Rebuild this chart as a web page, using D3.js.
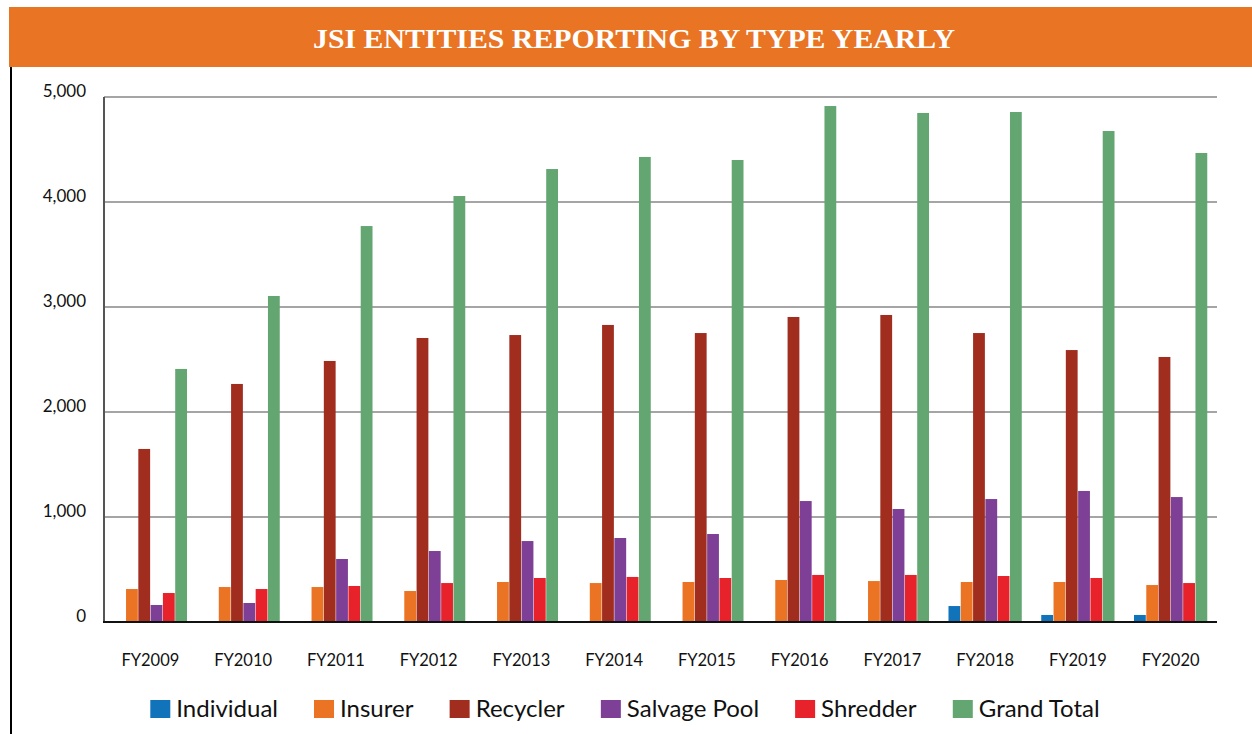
<!DOCTYPE html>
<html>
<head>
<meta charset="utf-8">
<script src="https://cdn.jsdelivr.net/npm/d3@7"></script>
<style>
  body { margin: 0; background: #fff; }
  svg { display: block; }
</style>
</head>
<body>
<script>
// data
var years = ["FY2009", "FY2010", "FY2011", "FY2012", "FY2013", "FY2014",
             "FY2015", "FY2016", "FY2017", "FY2018", "FY2019", "FY2020"];
var seriesNames = ["Individual", "Insurer", "Recycler", "Salvage Pool", "Shredder", "Grand Total"];
var individual  = [0, 0, 0, 0, 0, 0, 0, 0, 0, 152, 67, 67];
var insurer     = [314, 333, 333, 295, 381, 371, 381, 400, 390, 381, 381, 352];
var recycler    = [1648, 2267, 2486, 2705, 2733, 2829, 2752, 2905, 2924, 2752, 2590, 2524];
var salvagePool = [162, 181, 600, 676, 771, 800, 838, 1152, 1076, 1171, 1248, 1190];
var shredder    = [276, 314, 343, 371, 419, 429, 419, 448, 448, 438, 419, 371];
var grandTotal  = [2410, 3105, 3771, 4057, 4314, 4429, 4400, 4914, 4848, 4857, 4676, 4467];
var yTicks = [0, 1000, 2000, 3000, 4000, 5000];
var title = "JSI ENTITIES REPORTING BY TYPE YEARLY";

var colors = ["#1173ba", "#ea7424", "#a12d1f", "#7e3f96", "#e8222a", "#64a672"];

const WIDTH = 1252;
const HEIGHT = 734;
const LEFT = 104, RIGHT = 1217, TOP = 97, BOTTOM = 622;
const FONT = "Lato, 'Liberation Sans', sans-serif";

// rows per year, one entry per series
var allSeries = [individual, insurer, recycler, salvagePool, shredder, grandTotal];
var rows = years.map((y, i) => ({
    year: y,
    values: seriesNames.map((s, j) => ({ key: s, value: allSeries[j][i] }))
}));

var svg = d3.select("body").append("svg")
    .attr("width", WIDTH)
    .attr("height", HEIGHT);

// title band
svg.append("rect")
    .attr("x", 9).attr("y", 7)
    .attr("width", WIDTH - 9).attr("height", 60)
    .attr("fill", "#e97424");
svg.append("text")
    .attr("x", 634).attr("y", 48)
    .attr("text-anchor", "middle")
    .attr("font-family", "'Liberation Serif', 'DejaVu Serif', serif")
    .attr("font-weight", "bold")
    .attr("font-size", "28px")
    .attr("fill", "#fff")
    .attr("textLength", 642)
    .attr("lengthAdjust", "spacingAndGlyphs")
    .text(title);

// left frame line
svg.append("line")
    .attr("x1", 11).attr("x2", 11)
    .attr("y1", 67).attr("y2", HEIGHT)
    .attr("stroke", "#000").attr("stroke-width", 2);

// scales
var x0 = d3.scaleBand()
    .domain(years)
    .range([LEFT, RIGHT])
    .paddingInner(0.21)
    .paddingOuter(0.105);
var x1 = d3.scaleBand()
    .domain(seriesNames)
    .range([0, x0.bandwidth()])
    .paddingInner(0.04);
var yScale = d3.scaleLinear()
    .domain([0, 5000])
    .range([BOTTOM, TOP]);

// gridlines
svg.append("g")
    .selectAll("line")
    .data(yTicks.filter(d => d > 0))
    .enter()
    .append("line")
    .attr("x1", LEFT).attr("x2", RIGHT)
    .attr("y1", d => yScale(d)).attr("y2", d => yScale(d))
    .attr("stroke", "#878787").attr("stroke-width", 1.5);

// y axis labels
var yAxis = svg.append("g")
    .attr("transform", `translate(${LEFT},0)`)
    .call(d3.axisLeft(yScale).tickValues(yTicks).tickSize(0).tickPadding(18)
        .tickFormat(d3.format(",")));
yAxis.select(".domain").remove();
yAxis.selectAll("text")
    .attr("font-family", FONT)
    .attr("font-size", "17px")
    .attr("fill", "#111")
    .attr("dy", "-0.05em");

// bars
svg.append("g")
    .selectAll("g")
    .data(rows)
    .enter()
    .append("g")
    .attr("transform", d => `translate(${x0(d.year)},0)`)
    .selectAll("rect")
    .data(d => d.values)
    .enter()
    .append("rect")
    .attr("x", d => x1(d.key))
    .attr("width", x1.bandwidth())
    .attr("y", d => yScale(d.value))
    .attr("height", d => BOTTOM - yScale(d.value))
    .attr("fill", (d, i) => colors[i]);

// y axis line and baseline
svg.append("line")
    .attr("x1", LEFT).attr("x2", LEFT)
    .attr("y1", TOP).attr("y2", BOTTOM)
    .attr("stroke", "#555").attr("stroke-width", 2);
svg.append("line")
    .attr("x1", LEFT - 1).attr("x2", RIGHT)
    .attr("y1", BOTTOM).attr("y2", BOTTOM)
    .attr("stroke", "#111").attr("stroke-width", 2);

// x axis labels
var xAxis = svg.append("g")
    .attr("transform", `translate(0,${BOTTOM})`)
    .call(d3.axisBottom(x0).tickSize(0).tickPadding(32));
xAxis.select(".domain").remove();
xAxis.selectAll("text")
    .attr("font-family", FONT)
    .attr("font-size", "16.5px")
    .attr("fill", "#111");

// legend, centred under the plot
var legend = svg.append("g");
var items = legend.selectAll("g")
    .data(seriesNames)
    .enter()
    .append("g");
items.append("rect")
    .attr("width", 20).attr("height", 18)
    .attr("y", 700)
    .attr("fill", (d, i) => colors[i]);
items.append("text")
    .attr("x", 26).attr("y", 717)
    .attr("font-family", FONT)
    .attr("font-size", "24px")
    .attr("fill", "#111")
    .text(d => d);

var pos = 0, offsets = [];
items.each(function() {
    offsets.push(pos);
    pos += this.getBBox().width + 36;
});
var total = pos - 36;
var startX = 625 - total / 2;
items.attr("transform", (d, i) => `translate(${startX + offsets[i]},0)`);
</script>
</body>
</html>
